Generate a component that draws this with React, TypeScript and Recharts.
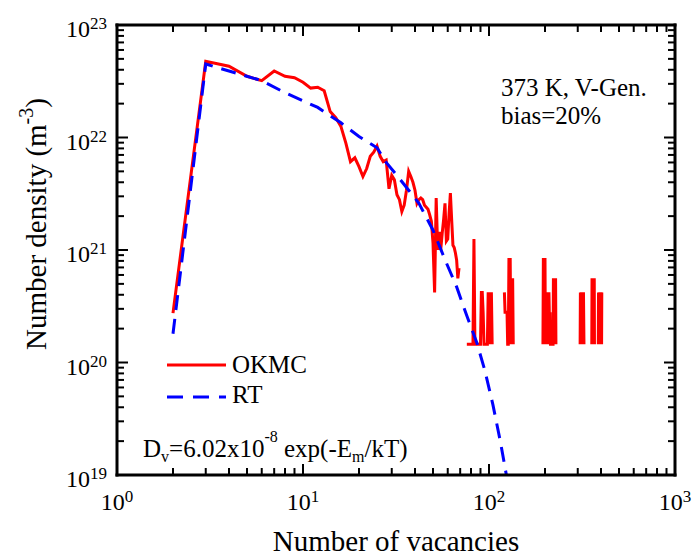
import React from 'react'
import { LineChart, Line, XAxis, YAxis, Customized } from 'recharts'

const SERIF = '"Liberation Serif", "Times New Roman", serif'

// OKMC cluster size distribution (null = no clusters, line breaks)
const okmcX = [
  2, 3, 4, 5, 6, 7, 8, 9, 10, 11, 12, 13, 14, 15, 16, 17, 18, 19, 20, 21, 22, 23, 24, 25, 26, 27, 28, 29, 30,
  31, 32, 33, 34, 35, 36, 37, 38, 39, 40, 41, 42, 43, 44, 45, 46, 47, 48, 49, 50, 51, 52, 53, 54, 55, 56, 57,
  58, 59, 60, 61, 62, 63, 64, 65, 66, 67, 68, 69, 72,
  76, 82, 83, 84, 90, 91, 92, 93, 94, 98, 99, 100, 101, 102, 103, 104, 110,
  121, 122, 125, 126, 127, 128, 129, 130, 131, 132, 133, 134, 135, 150,
  195, 196, 197, 198, 199, 200, 201, 202, 203, 204, 205, 206, 207, 208, 209, 210, 211, 212, 213, 214,
  221, 222, 223, 224, 225, 226, 227, 228, 229, 260,
  309, 310, 312, 314, 316, 318, 320, 322, 324, 340,
  357, 358, 361, 363, 366, 368, 369, 380,
  387, 388, 391, 394, 397, 400, 403, 404,
]
const okmcY = [
  2.75e20, 4.75e22, 4.3e22, 3.5e22, 3.2e22, 3.9e22, 3.5e22, 3.4e22, 3.1e22, 2.75e22, 2.8e22, 2.6e22, 1.7e22,
  1.5e22, 1.25e22, 8.9e21, 6.1e21, 6.6e21, 5.5e21, 4.5e21, 5.3e21, 6.8e21, 7.4e21, 8.4e21, 6.8e21, 6.1e21,
  6.3e21, 3.5e21, 4.6e21, 4.2e21, 3.1e21, 2.8e21, 2.2e21, 2.5e21, 3.4e21, 5.0e21, 4.5e21, 4.0e21, 3.4e21,
  2.6e21, 2.8e21, 2.9e21, 2.8e21, 2.5e21, 2.4e21, 2.3e21, 2.05e21, 1.8e21, 1.15e21, 4.2e20, 2.9e21, 1.0e21,
  1.45e21, 1.0e21, 1.4e21, 1.85e21, 2.6e21, 1.2e21, 1.25e21, 2.1e21, 3.2e21, 1.85e21, 1.1e21, 1.05e21, 9.4e20,
  8.1e20, 5.6e20, 6.9e20, null,
  1.45e20, 1.45e20, 1.25e21, 1.45e20, 1.45e20, 4.2e20, 4.2e20, 2.8e20, 1.45e20, 1.45e20, 4.2e20, 1.45e20,
  4.2e20, 1.45e20, 4.2e20, 1.45e20, null,
  4.2e20, 2.8e20, 2.8e20, 1.45e20, 1.45e20, 8.5e20, 1.45e20, 8.5e20, 1.45e20, 5.6e20, 1.45e20, 5.6e20,
  1.45e20, null,
  1.45e20, 8.5e20, 1.45e20, 8.5e20, 1.45e20, 8.5e20, 1.45e20, 4.2e20, 1.45e20, 4.2e20, 1.45e20, 4.2e20,
  1.45e20, 4.2e20, 1.45e20, 4.2e20, 2.8e20, 1.45e20, 2.8e20, 1.45e20,
  1.45e20, 5.6e20, 1.45e20, 5.6e20, 1.45e20, 5.6e20, 1.45e20, 5.6e20, 1.45e20, null,
  1.45e20, 4.2e20, 1.45e20, 4.2e20, 1.45e20, 4.2e20, 1.45e20, 4.2e20, 1.45e20, null,
  1.45e20, 5.6e20, 1.45e20, 5.6e20, 1.45e20, 5.6e20, 1.45e20, null,
  1.45e20, 4.2e20, 1.45e20, 4.2e20, 1.45e20, 4.2e20, 1.45e20, 4.2e20,
]

// rate theory curve
const rtX = [2, 3, 4, 6, 8, 12, 16, 20, 25, 28, 32, 37, 42, 50, 58, 67, 76, 86, 95, 105, 115, 124, 130]
const rtY = [
  1.8e20, 4.5e22, 3.9e22, 3.2e22, 2.5e22, 1.85e22, 1.35e22, 1.02e22, 8.1e21, 6.0e21, 4.6e21, 3.4e21, 2.6e21,
  1.5e21, 8.2e20, 4.7e20, 2.6e20, 1.5e20, 8.5e19, 4.2e19, 2.0e19, 1.0e19, 6.5e18,
]

const xDecades = [0, 1, 2, 3]
const yDecades = [19, 20, 21, 22, 23]

const okmcData = okmcX.map((x, i) => ({ x, y: okmcY[i] }))
const rtData = rtX.map((x, i) => ({ x, y: rtY[i] }))

const withMinor = (decades: number[]) => {
  const out: number[] = []
  decades.forEach((d, i) => {
    out.push(Math.pow(10, d))
    if (i < decades.length - 1) for (let k = 2; k <= 9; k++) out.push(k * Math.pow(10, d))
  })
  return out
}
const xTicks = withMinor(xDecades)
const yTicks = withMinor(yDecades)

const isMajor = (v: number) => Math.abs(Math.log10(v) - Math.round(Math.log10(v))) < 1e-6

const AxisTick = ({ x, y, payload, side }: any) => {
  const v = payload.value
  const major = isMajor(v)
  const len = major ? 11 : 7
  const exp = Math.round(Math.log10(v))
  let line
  if (side === 'bottom') line = <line x1={x} x2={x} y1={y} y2={y - len} stroke="#000" strokeWidth={2} />
  else if (side === 'top') line = <line x1={x} x2={x} y1={y} y2={y + len} stroke="#000" strokeWidth={2} />
  else if (side === 'left') line = <line x1={x} x2={x + len} y1={y} y2={y} stroke="#000" strokeWidth={2} />
  else line = <line x1={x} x2={x - len} y1={y} y2={y} stroke="#000" strokeWidth={2} />
  return (
    <g>
      {line}
      {major && side === 'bottom' && (
        <text x={x} y={y + 35} textAnchor="middle" fontFamily={SERIF} fontSize={24} fill="#000">
          10<tspan fontSize={17} dy={-8}>{exp}</tspan>
        </text>
      )}
      {major && side === 'left' && (
        <text x={x - 10} y={y + 12} textAnchor="end" fontFamily={SERIF} fontSize={24} fill="#000">
          10<tspan fontSize={17} dy={-8}>{exp}</tspan>
        </text>
      )}
    </g>
  )
}

const Annotations = () => (
  <g fontFamily={SERIF} fill="#000">
    <text x={501} y={96} fontSize={25}>373 K, V-Gen.</text>
    <text x={501} y={124} fontSize={25}>bias=20%</text>
    <line x1={167} x2={226} y1={365} y2={365} stroke="#ff0000" strokeWidth={3} />
    <text x={232} y={373} fontSize={25}>OKMC</text>
    <line x1={167} x2={226} y1={397} y2={397} stroke="#0000ff" strokeWidth={3} strokeDasharray="16 10" />
    <text x={232} y={403} fontSize={25}>RT</text>
    <text x={143} y={457} fontSize={25}>
      D<tspan fontSize={16} dy={5}>v</tspan>
      <tspan dy={-5}>=6.02x10</tspan>
      <tspan fontSize={16} dy={-15}>-8</tspan>
      <tspan dy={15}>{' exp(-E'}</tspan>
      <tspan fontSize={16} dy={5}>m</tspan>
      <tspan dy={-5}>/kT)</tspan>
    </text>
    <text x={396} y={551} fontSize={29} textAnchor="middle">Number of vacancies</text>
    <text transform="translate(46,224) rotate(-90)" fontSize={29} textAnchor="middle">
      Number density (m<tspan fontSize={20} dy={-13}>-3</tspan><tspan dy={13}>)</tspan>
    </text>
  </g>
)

const frame = { stroke: '#000', strokeWidth: 3, strokeLinecap: 'square' as const }

export default function App() {
  return (
    <div style={{ position: 'absolute', left: 0, top: 0, width: 693, height: 558, background: '#fff' }}>
      <LineChart width={693} height={558} margin={{ top: 0, right: 0, bottom: 0, left: 0 }}>
        <XAxis xAxisId={0} dataKey="x" type="number" scale="log" domain={[1, 1000]} allowDataOverflow
          ticks={xTicks} interval={0} height={83} tickSize={0} tickMargin={0} axisLine={frame} tickLine={false}
          tick={<AxisTick side="bottom" />} />
        <XAxis xAxisId="top" orientation="top" dataKey="x" type="number" scale="log" domain={[1, 1000]} allowDataOverflow
          ticks={xTicks} interval={0} height={25} tickSize={0} tickMargin={0} axisLine={frame} tickLine={false}
          tick={<AxisTick side="top" />} />
        <YAxis yAxisId={0} type="number" scale="log" domain={[1e19, 1e23]} allowDataOverflow
          ticks={yTicks} interval={0} width={117} tickSize={0} tickMargin={0} axisLine={frame} tickLine={false}
          tick={<AxisTick side="left" />} />
        <YAxis yAxisId="right" orientation="right" type="number" scale="log" domain={[1e19, 1e23]} allowDataOverflow
          ticks={yTicks} interval={0} width={18} tickSize={0} tickMargin={0} axisLine={frame} tickLine={false}
          tick={<AxisTick side="right" />} />
        <Line data={okmcData} dataKey="y" type="linear" stroke="#ff0000" strokeWidth={3} dot={false}
          activeDot={false} connectNulls={false} isAnimationActive={false} />
        <Line data={rtData} dataKey="y" type="linear" stroke="#0000ff" strokeWidth={3} strokeDasharray="15 9"
          dot={false} activeDot={false} isAnimationActive={false} />
        <Customized component={Annotations} />
      </LineChart>
    </div>
  )
}
